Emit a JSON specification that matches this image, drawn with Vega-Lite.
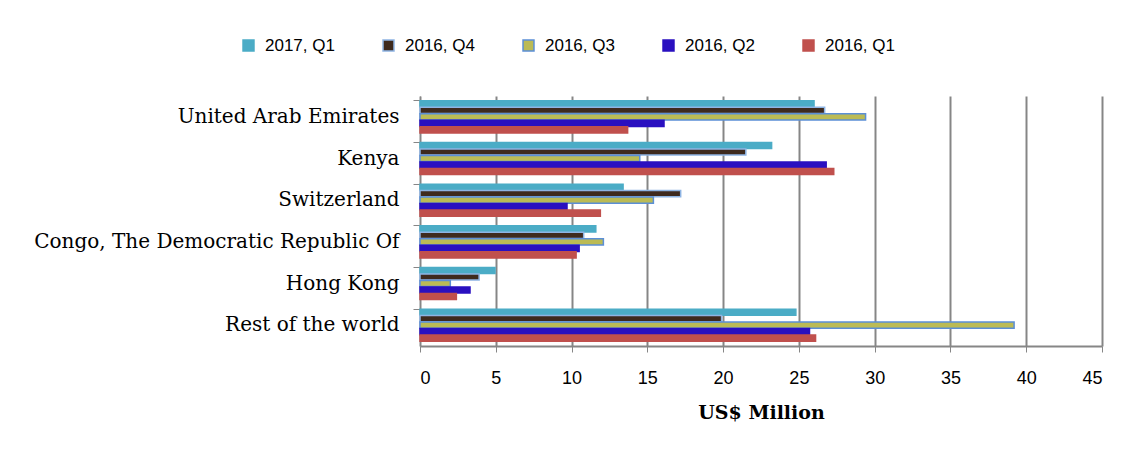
{
  "$schema": "https://vega.github.io/schema/vega-lite/v6.json",
  "width": 682,
  "height": 250,
  "autosize": {"type": "none"},
  "padding": {"left": 420, "top": 96, "right": 33, "bottom": 104},
  "background": "white",
  "data": {
    "values": [
      {"country": "United Arab Emirates", "period": "2017, Q1", "value": 26.0},
      {"country": "United Arab Emirates", "period": "2016, Q4", "value": 26.7},
      {"country": "United Arab Emirates", "period": "2016, Q3", "value": 29.4},
      {"country": "United Arab Emirates", "period": "2016, Q2", "value": 16.1},
      {"country": "United Arab Emirates", "period": "2016, Q1", "value": 13.7},
      {"country": "Kenya", "period": "2017, Q1", "value": 23.2},
      {"country": "Kenya", "period": "2016, Q4", "value": 21.5},
      {"country": "Kenya", "period": "2016, Q3", "value": 14.5},
      {"country": "Kenya", "period": "2016, Q2", "value": 26.8},
      {"country": "Kenya", "period": "2016, Q1", "value": 27.3},
      {"country": "Switzerland", "period": "2017, Q1", "value": 13.4},
      {"country": "Switzerland", "period": "2016, Q4", "value": 17.2},
      {"country": "Switzerland", "period": "2016, Q3", "value": 15.4},
      {"country": "Switzerland", "period": "2016, Q2", "value": 9.7},
      {"country": "Switzerland", "period": "2016, Q1", "value": 11.9},
      {"country": "Congo, The Democratic Republic Of", "period": "2017, Q1", "value": 11.6},
      {"country": "Congo, The Democratic Republic Of", "period": "2016, Q4", "value": 10.8},
      {"country": "Congo, The Democratic Republic Of", "period": "2016, Q3", "value": 12.1},
      {"country": "Congo, The Democratic Republic Of", "period": "2016, Q2", "value": 10.5},
      {"country": "Congo, The Democratic Republic Of", "period": "2016, Q1", "value": 10.3},
      {"country": "Hong Kong", "period": "2017, Q1", "value": 4.95},
      {"country": "Hong Kong", "period": "2016, Q4", "value": 3.9},
      {"country": "Hong Kong", "period": "2016, Q3", "value": 2.0},
      {"country": "Hong Kong", "period": "2016, Q2", "value": 3.3},
      {"country": "Hong Kong", "period": "2016, Q1", "value": 2.4},
      {"country": "Rest of the world", "period": "2017, Q1", "value": 24.8},
      {"country": "Rest of the world", "period": "2016, Q4", "value": 19.9},
      {"country": "Rest of the world", "period": "2016, Q3", "value": 39.2},
      {"country": "Rest of the world", "period": "2016, Q2", "value": 25.7},
      {"country": "Rest of the world", "period": "2016, Q1", "value": 26.1}
    ]
  },
  "mark": {"type": "bar", "strokeWidth": 1.5},
  "encoding": {
    "y": {
      "field": "country",
      "type": "nominal",
      "sort": ["United Arab Emirates", "Kenya", "Switzerland", "Congo, The Democratic Republic Of", "Hong Kong", "Rest of the world"],
      "scale": {"paddingInner": 0.23, "paddingOuter": 0.115},
      "axis": {
        "title": null,
        "labelFont": "DejaVu Serif",
        "labelFontSize": 20,
        "labelColor": "black",
        "labelPadding": 14,
        "labelLimit": 0,
        "domainColor": "#868686",
        "domainWidth": 1,
        "tickColor": "#868686",
        "tickSize": 7,
        "bandPosition": 0,
        "grid": false
      }
    },
    "yOffset": {
      "field": "period",
      "type": "nominal",
      "sort": ["2017, Q1", "2016, Q4", "2016, Q3", "2016, Q2", "2016, Q1"],
      "scale": {"paddingInner": 0.05}
    },
    "x": {
      "field": "value",
      "type": "quantitative",
      "scale": {"domain": [0, 45], "nice": false},
      "axis": {
        "title": "US$ Million",
        "titleFont": "DejaVu Serif",
        "titleFontSize": 19,
        "titleFontWeight": "bold",
        "titleColor": "black",
        "titlePadding": 16,
        "values": [0, 5, 10, 15, 20, 25, 30, 35, 40, 45],
        "labelFont": "Liberation Sans",
        "labelFontSize": 18,
        "labelColor": "black",
        "labelPadding": 17,
        "tickColor": "#868686",
        "tickSize": 6,
        "domainColor": "#868686",
        "domainWidth": 2,
        "grid": true,
        "gridColor": "#868686",
        "gridWidth": 2
      }
    },
    "fill": {
      "field": "period",
      "type": "nominal",
      "sort": ["2017, Q1", "2016, Q4", "2016, Q3", "2016, Q2", "2016, Q1"],
      "scale": {
        "domain": ["2017, Q1", "2016, Q4", "2016, Q3", "2016, Q2", "2016, Q1"],
        "range": ["#4BACC6", "#3E2A1E", "#BBBB55", "#2A10C0", "#C0504D"]
      },
      "legend": {
        "title": null,
        "orient": "none",
        "direction": "horizontal",
        "legendX": -180,
        "legendY": -59,
        "columns": 5,
        "columnPadding": 45,
        "symbolType": "square",
        "symbolSize": 120,
        "symbolStrokeWidth": 1.5,
        "labelFont": "Liberation Sans",
        "labelFontSize": 17,
        "labelColor": "black",
        "labelOffset": 8
      }
    },
    "stroke": {
      "field": "period",
      "type": "nominal",
      "sort": ["2017, Q1", "2016, Q4", "2016, Q3", "2016, Q2", "2016, Q1"],
      "scale": {
        "domain": ["2017, Q1", "2016, Q4", "2016, Q3", "2016, Q2", "2016, Q1"],
        "range": ["#4BACC6", "#8EB4E3", "#5B8FD6", "#2A10C0", "#C0504D"]
      },
      "legend": null
    }
  },
  "config": {
    "view": {"stroke": null},
    "axis": {"gridOpacity": 1}
  }
}
